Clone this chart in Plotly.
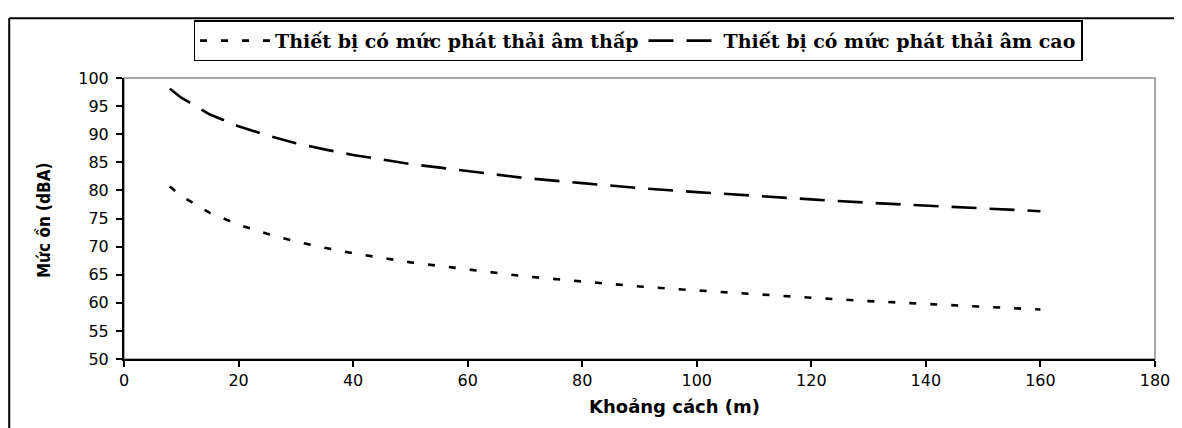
import plotly.graph_objects as go

# Data
distance = [8, 10, 15, 20, 25, 30, 35, 40, 50, 60, 70, 80, 90, 100, 110, 120, 130, 140, 150, 160]
low_noise = [80.7, 79.0, 76.0, 73.9, 72.3, 70.9, 69.8, 68.8, 67.2, 65.9, 64.7, 63.8, 62.9, 62.2, 61.5, 60.9, 60.3, 59.8, 59.3, 58.8]
high_noise = [98.1, 96.5, 93.5, 91.4, 89.8, 88.4, 87.3, 86.3, 84.7, 83.4, 82.2, 81.3, 80.4, 79.7, 79.0, 78.4, 77.8, 77.3, 76.8, 76.3]
series_names = ["Thiết bị có mức phát thải âm thấp", "Thiết bị có mức phát thải âm cao"]
x_title = "Khoảng cách (m)"
y_title = "Mức ồn (dBA)"

# The page body has an 8px margin, so work in page pixels and shift.
OFF = 8
W, H = 1182 - OFF, 428 - OFF
PL, PR, PT, PB = 124, 1157, 72, 359  # plot area in page pixels
L, T = PL - OFF, PT - OFF
PW, PH = PR - PL, PB - PT
R, B = W - L - PW, H - T - PH

def px_x(p):
    return (p - PL) / PW

def px_y(p):
    return (PB - p) / PH

fig = go.Figure()
fig.add_trace(go.Scatter(x=distance, y=low_noise, mode="lines", name=series_names[0],
                         line=dict(color="black", width=2.6, dash="7px,14px")))
fig.add_trace(go.Scatter(x=distance, y=high_noise, mode="lines", name=series_names[1],
                         line=dict(color="black", width=2.6, dash="25px,13px")))

tick_font = dict(family="DejaVu Sans, Liberation Sans, Arial", size=16, color="black")

fig.update_layout(
    width=W, height=H,
    margin=dict(l=L, r=R, t=T, b=B),
    paper_bgcolor="white", plot_bgcolor="white",
    showlegend=True,
    legend=dict(orientation="h", x=px_x(639), xanchor="center", y=px_y(13), yanchor="top",
                bordercolor="black", borderwidth=1.5, bgcolor="white",
                font=dict(family="DejaVu Serif, Liberation Serif, Times New Roman", size=19,
                          color="black", weight="bold"),
                itemwidth=70, tracegroupgap=0),
    xaxis=dict(range=[0, 180], dtick=20, tick0=0, showgrid=False, zeroline=False,
               showline=True, linecolor="black", linewidth=2, ticks="outside",
               ticklen=6, tickwidth=1.5, tickcolor="black", tickfont=tick_font),
    yaxis=dict(range=[50, 100], dtick=5, tick0=50, showgrid=False, zeroline=False,
               showline=True, linecolor="black", linewidth=2, ticks="outside",
               ticklen=6, tickwidth=1.5, tickcolor="black", tickfont=tick_font,
               ticklabelstandoff=4),
    shapes=[
        dict(type="rect", xref="paper", yref="paper", x0=0, x1=1, y0=0, y1=1,
             line=dict(color="#8c8c8c", width=1.5), layer="below"),
        dict(type="line", xref="paper", yref="paper", x0=px_x(9), x1=px_x(1250),
             y0=px_y(11), y1=px_y(11), line=dict(color="black", width=2)),
        dict(type="line", xref="paper", yref="paper", x0=px_x(9), x1=px_x(9),
             y0=px_y(11), y1=px_y(470), line=dict(color="black", width=2)),
    ],
    annotations=[
        dict(text="<b>" + x_title + "</b>", xref="paper", yref="paper",
             x=px_x(676), y=px_y(408), xanchor="center", yanchor="middle", showarrow=False,
             font=dict(family="DejaVu Sans, Liberation Sans, Arial", size=18, color="black")),
        dict(text="<b>" + y_title + "</b>", xref="paper", yref="paper",
             x=px_x(44), y=px_y(217), xanchor="center", yanchor="middle", showarrow=False,
             textangle=-90,
             font=dict(family="Liberation Sans Narrow, Arial Narrow, DejaVu Sans Condensed, Liberation Sans", size=17, color="black")),
    ],
)

fig.write_html("out.html")
